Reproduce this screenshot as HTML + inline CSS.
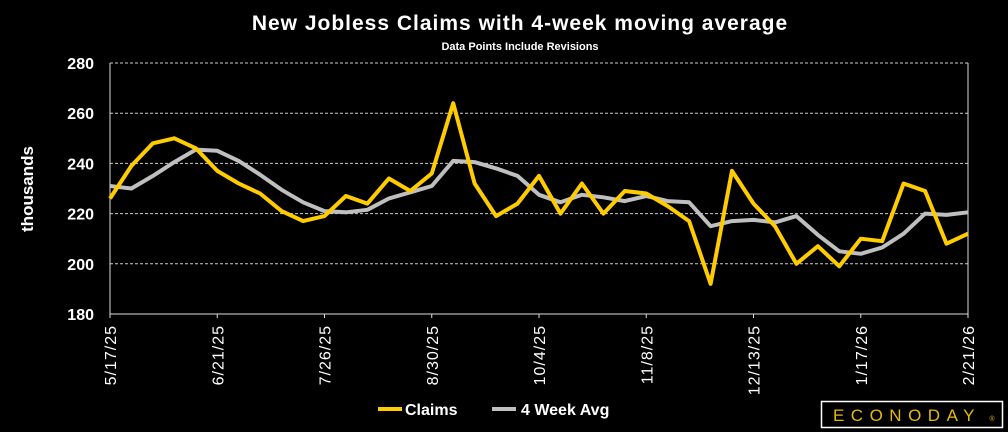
<!DOCTYPE html>
<html><head><meta charset="utf-8"><style>
html,body{margin:0;padding:0;background:#000;}
svg{display:block;font-family:"Liberation Sans",sans-serif;}
</style></head><body>
<svg id="chart" width="1008" height="432" viewBox="0 0 1008 432">
<rect width="1008" height="432" fill="#000"/>
<text x="520" y="30" fill="#fff" font-size="21" font-weight="bold" text-anchor="middle" letter-spacing="1">New Jobless Claims with 4-week moving average</text>
<text x="520" y="50" fill="#fff" font-size="11" font-weight="bold" text-anchor="middle">Data Points Include Revisions</text>
<text transform="translate(33,189) rotate(-90)" fill="#fff" font-size="17" font-weight="bold" text-anchor="middle">thousands</text>
<g id="grid"></g>
<g id="yticks"></g>
<g id="xticks"></g>
<g id="series"></g>
<g>
<line x1="378" y1="409" x2="402" y2="409" stroke="#FFCC00" stroke-width="4"/>
<text x="405" y="415" fill="#fff" font-size="16" font-weight="bold">Claims</text>
<line x1="492" y1="409" x2="516" y2="409" stroke="#BFBFBF" stroke-width="4"/>
<text x="521" y="415" fill="#fff" font-size="16" font-weight="bold">4 Week Avg</text>
</g>
<g>
<rect x="821.5" y="401.5" width="181" height="26" fill="#000" stroke="#fff" stroke-width="1.5"/>
<text x="907" y="421" fill="#E8B90C" font-size="17" text-anchor="middle" letter-spacing="6.5">ECONODAY</text>
<text x="992" y="421" fill="#E8B90C" font-size="7" text-anchor="middle">®</text>
</g>
</svg>
<script>
const dates=["5/17/25","6/21/25","7/26/25","8/30/25","10/4/25","11/8/25","12/13/25","1/17/26","2/21/26"];
const yTicks=[180,200,220,240,260,280];
const claims=[226,239,248,250,246,237,232,228,221,217,219,227,224,234,229,236,264,232,219,224,235,220,232,220,229,228,223,217,192,237,224,215,200,207,199,210,209,232,229,208,212];
const avg4=[231,230,235,240.5,245.5,245,241,235.5,229.5,224.5,221,220.5,221.5,226,228.5,231,241,240.5,238,235,227.5,224.5,227.5,226.5,225,227,225,224.5,215,217,217.5,216.5,219,211.5,205,204,206.5,212,220,219.5,220.5];
const NS="http://www.w3.org/2000/svg";
const X0=110,X1=968,Y0=314,Y1=63;
const n=claims.length;
function xs(i){return X0+(X1-X0)*i/(n-1);}
function ys(v){return Y0-(v-180)/(280-180)*(Y0-Y1);}
function mk(t,a){const e=document.createElementNS(NS,t);for(const k in a)e.setAttribute(k,a[k]);return e;}
const grid=document.getElementById('grid'),yt=document.getElementById('yticks'),xt=document.getElementById('xticks'),se=document.getElementById('series');
yTicks.forEach(v=>{
 if(v>180){const l=mk('line',{x1:X0,x2:X1,y1:ys(v),y2:ys(v),stroke:'#ccc','stroke-width':1,'stroke-dasharray':'3,2'});
 
 
 grid.appendChild(l);}
 const t=mk('text',{x:94,y:ys(v)+6,fill:'#fff','font-size':16,'font-weight':'bold','text-anchor':'end'});
 t.textContent=v;
 
 
 yt.appendChild(t);
});
const ax=mk('line',{x1:X0,x2:X0,y1:Y1,y2:Y0,stroke:'#ddd','stroke-width':1});


grid.appendChild(ax);
const ax2=mk('line',{x1:X1,x2:X1,y1:Y1,y2:Y0,stroke:'#ddd','stroke-width':1});


grid.appendChild(ax2);
const ax3=mk('line',{x1:X0,x2:X1,y1:Y0,y2:Y0,stroke:'#ddd','stroke-width':1});


grid.appendChild(ax3);
dates.forEach((d,k)=>{
 const x=xs(k*5);
 const tk=mk('line',{x1:x,x2:x,y1:Y0,y2:Y0+4,stroke:'#ddd','stroke-width':1});
 
 
 xt.appendChild(tk);
 const t=mk('text',{transform:`translate(${x+6},325) rotate(-90)`,fill:'#fff','font-size':16,'letter-spacing':'1','text-anchor':'end'});
 t.textContent=d;
 
 
 xt.appendChild(t);
});
function line(arr,color,name){
 const p=mk('polyline',{points:arr.map((v,i)=>xs(i).toFixed(1)+','+ys(v).toFixed(1)).join(' '),fill:'none',stroke:color,'stroke-width':4,'stroke-linejoin':'round'});
 
 
 se.appendChild(p);
}
line(avg4,'#BFBFBF','avg-4-week-line');
line(claims,'#FFCC00','claims-line');
</script>
</body></html>
